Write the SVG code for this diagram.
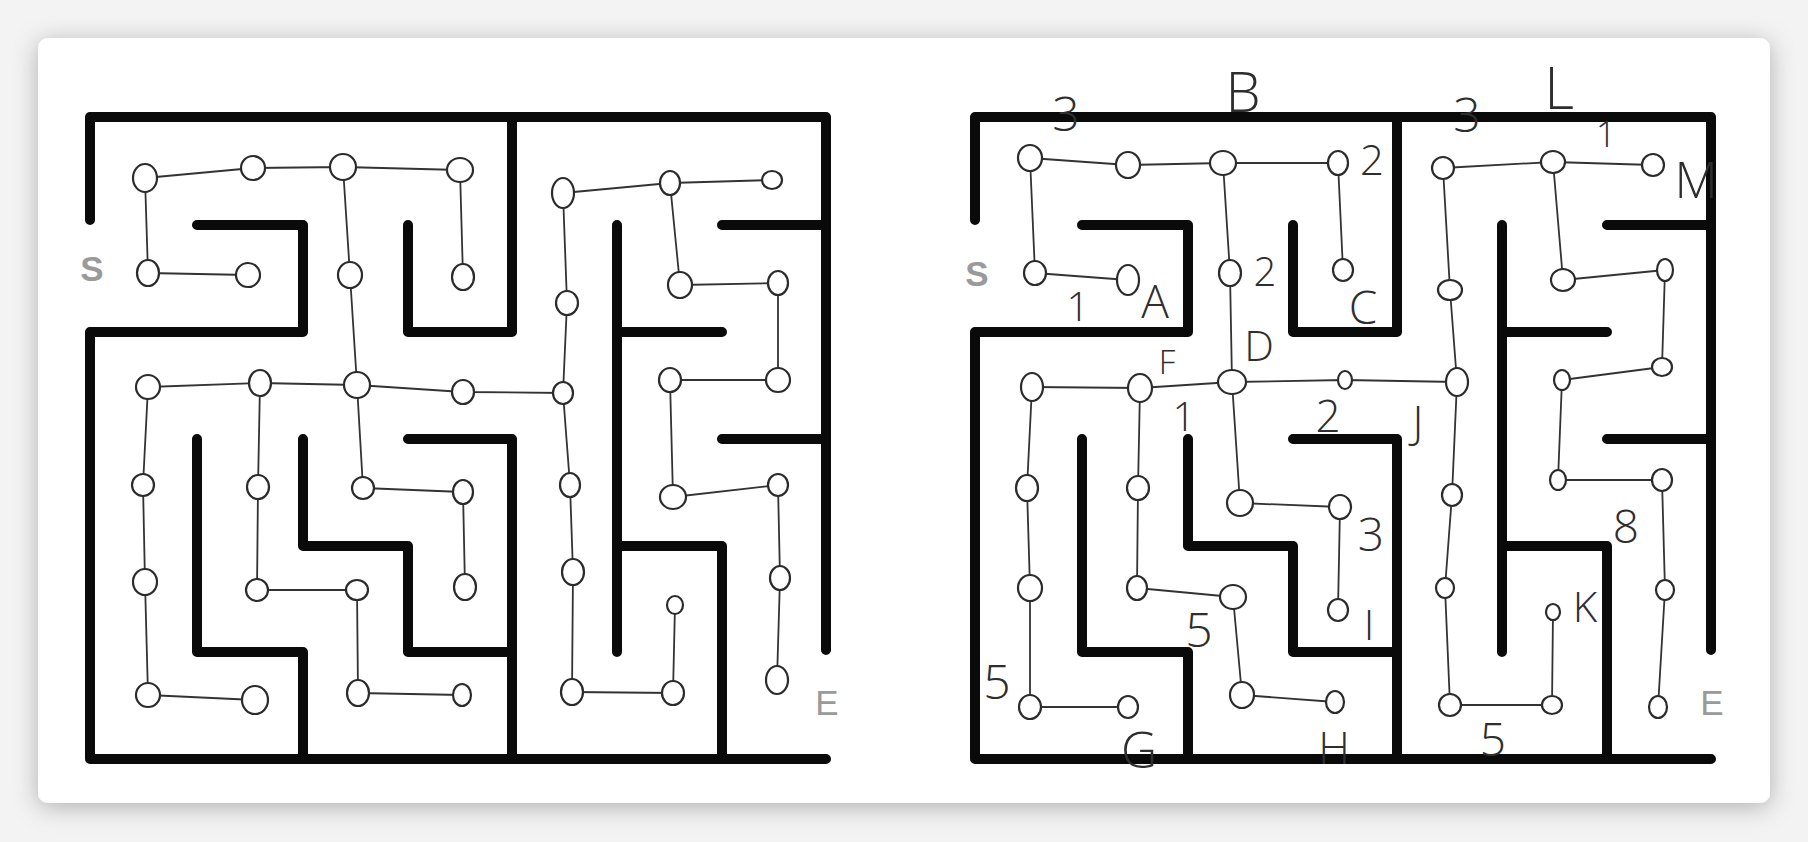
<svg xmlns="http://www.w3.org/2000/svg" width="1808" height="842" viewBox="0 0 1808 842">
<defs>
<style>
.wall{fill:none;stroke:#0a0a0a;stroke-width:10;stroke-linejoin:round;stroke-linecap:round}
.edge{stroke:#333;stroke-width:1.8;fill:none;stroke-linecap:round}
.node ellipse{fill:#fff;stroke:#2b2b2b;stroke-width:2.2}
.se{font-family:"Liberation Sans",Arial,sans-serif;font-size:35px;fill:#9a9a9a;text-anchor:middle;dominant-baseline:central}
.hw{font-family:"Open Sans","Liberation Sans",Arial,sans-serif;fill:#2e2e2e;text-anchor:middle;dominant-baseline:central;font-weight:300}
</style>
<filter id="shadow" x="-5%" y="-8%" width="110%" height="120%">
<feDropShadow dx="0" dy="4" stdDeviation="12" flood-color="#000" flood-opacity="0.28"/>
</filter>
<path id="walls" class="wall" d="M90,220 V117 H826 V650 M197,225 H303 V332 H90 V759 H826 M408,225 V332 H512 V117 M408,439 H512 V759 M197,439 V652 H303 V759 M303,439 V546 H408 V652 H512 M617,225 V652 M617,332 H722 M617,546 H722 V759 M722,225 H826 M722,439 H826"/>
</defs>
<rect x="0" y="0" width="1808" height="842" fill="#f3f3f3"/>
<rect x="38" y="38" width="1732" height="765" rx="10" ry="10" fill="#fff" filter="url(#shadow)"/>

<g id="maze-walls">
<use href="#walls"/>
<use href="#walls" x="885"/>
</g>

<g id="connectors">
<g id="left-connectors">
<path class="edge" d="M145,178L253,168M253,168L343,167M343,167L460,170M563,193L670,183M670,183L772,180M148,273L248,275M680,285L778,283M148,387L260,383M260,383L357,385M357,385L463,392M463,392L563,393M670,380L778,380M363,488L463,492M673,497L778,485M257,590L357,590M148,695L255,700M358,693L462,695M572,692L673,693"/>
<path class="edge" d="M145,178L148,273M343,167L350,275M460,170L463,277M563,193L567,303M670,183L680,285M350,275L357,385M567,303L563,393M778,283L778,380M148,387L143,485M260,383L258,487M357,385L363,488M563,393L570,485M670,380L673,497M143,485L145,582M258,487L257,590M463,492L465,587M570,485L573,572M778,485L780,578M145,582L148,695M357,590L358,693M573,572L572,692M675,605L673,693M780,578L777,680"/>
</g>
<g id="right-connectors">
<path class="edge" d="M1030,158L1128,165M1128,165L1223,163M1223,163L1338,163M1443,168L1553,162M1553,162L1653,165M1035,273L1128,280M1563,280L1665,270M1032,387L1140,388M1140,388L1232,382M1232,382L1345,380M1345,380L1457,382M1562,380L1662,367M1240,503L1340,507M1558,480L1662,480M1137,588L1233,597M1030,707L1128,707M1242,695L1335,702M1450,705L1552,705"/>
<path class="edge" d="M1030,158L1035,273M1223,163L1230,273M1338,163L1343,270M1443,168L1450,290M1553,162L1563,280M1230,273L1232,382M1450,290L1457,382M1665,270L1662,367M1032,387L1027,488M1140,388L1138,488M1232,382L1240,503M1457,382L1452,495M1562,380L1558,480M1027,488L1030,588M1138,488L1137,588M1340,507L1338,610M1452,495L1445,588M1662,480L1665,590M1030,588L1030,707M1233,597L1242,695M1445,588L1450,705M1553,612L1552,705M1665,590L1658,707"/>
</g>
</g>

<g id="left-nodes">
<g id="L-r0c0" class="node"><ellipse cx="145" cy="178" rx="12" ry="14"/></g>
<g id="L-r0c1" class="node"><ellipse cx="253" cy="168" rx="12" ry="12"/></g>
<g id="L-r0c2" class="node"><ellipse cx="343" cy="167" rx="13" ry="13"/></g>
<g id="L-r0c3" class="node"><ellipse cx="460" cy="170" rx="13" ry="12"/></g>
<g id="L-r0c4" class="node"><ellipse cx="563" cy="193" rx="11" ry="15"/></g>
<g id="L-r0c5" class="node"><ellipse cx="670" cy="183" rx="10" ry="12"/></g>
<g id="L-r0c6" class="node"><ellipse cx="772" cy="180" rx="10" ry="9"/></g>
<g id="L-r1c0" class="node"><ellipse cx="148" cy="273" rx="11" ry="13"/></g>
<g id="L-r1c1" class="node"><ellipse cx="248" cy="275" rx="12" ry="12"/></g>
<g id="L-r1c2" class="node"><ellipse cx="350" cy="275" rx="12" ry="13"/></g>
<g id="L-r1c3" class="node"><ellipse cx="463" cy="277" rx="11" ry="13"/></g>
<g id="L-r1c4" class="node"><ellipse cx="567" cy="303" rx="11" ry="12"/></g>
<g id="L-r1c5" class="node"><ellipse cx="680" cy="285" rx="12" ry="13"/></g>
<g id="L-r1c6" class="node"><ellipse cx="778" cy="283" rx="10" ry="12"/></g>
<g id="L-r2c0" class="node"><ellipse cx="148" cy="387" rx="12" ry="12"/></g>
<g id="L-r2c1" class="node"><ellipse cx="260" cy="383" rx="11" ry="13"/></g>
<g id="L-r2c2" class="node"><ellipse cx="357" cy="385" rx="13" ry="13"/></g>
<g id="L-r2c3" class="node"><ellipse cx="463" cy="392" rx="11" ry="12"/></g>
<g id="L-r2c4" class="node"><ellipse cx="563" cy="393" rx="10" ry="11"/></g>
<g id="L-r2c5" class="node"><ellipse cx="670" cy="380" rx="11" ry="12"/></g>
<g id="L-r2c6" class="node"><ellipse cx="778" cy="380" rx="12" ry="12"/></g>
<g id="L-r3c0" class="node"><ellipse cx="143" cy="485" rx="11" ry="11"/></g>
<g id="L-r3c1" class="node"><ellipse cx="258" cy="487" rx="11" ry="12"/></g>
<g id="L-r3c2" class="node"><ellipse cx="363" cy="488" rx="11" ry="11"/></g>
<g id="L-r3c3" class="node"><ellipse cx="463" cy="492" rx="10" ry="12"/></g>
<g id="L-r3c4" class="node"><ellipse cx="570" cy="485" rx="10" ry="12"/></g>
<g id="L-r3c5" class="node"><ellipse cx="673" cy="497" rx="13" ry="12"/></g>
<g id="L-r3c6" class="node"><ellipse cx="778" cy="485" rx="10" ry="11"/></g>
<g id="L-r4c0" class="node"><ellipse cx="145" cy="582" rx="12" ry="13"/></g>
<g id="L-r4c1" class="node"><ellipse cx="257" cy="590" rx="11" ry="11"/></g>
<g id="L-r4c2" class="node"><ellipse cx="357" cy="590" rx="11" ry="10"/></g>
<g id="L-r4c3" class="node"><ellipse cx="465" cy="587" rx="11" ry="13"/></g>
<g id="L-r4c4" class="node"><ellipse cx="573" cy="572" rx="11" ry="13"/></g>
<g id="L-r4c5" class="node"><ellipse cx="675" cy="605" rx="8" ry="9"/></g>
<g id="L-r4c6" class="node"><ellipse cx="780" cy="578" rx="10" ry="12"/></g>
<g id="L-r5c0" class="node"><ellipse cx="148" cy="695" rx="12" ry="12"/></g>
<g id="L-r5c1" class="node"><ellipse cx="255" cy="700" rx="13" ry="14"/></g>
<g id="L-r5c2" class="node"><ellipse cx="358" cy="693" rx="11" ry="13"/></g>
<g id="L-r5c3" class="node"><ellipse cx="462" cy="695" rx="9" ry="11"/></g>
<g id="L-r5c4" class="node"><ellipse cx="572" cy="692" rx="11" ry="13"/></g>
<g id="L-r5c5" class="node"><ellipse cx="673" cy="693" rx="11" ry="12"/></g>
<g id="L-r5c6" class="node"><ellipse cx="777" cy="680" rx="11" ry="14"/></g>
</g>

<g id="right-nodes">
<g id="R-r0c0" class="node"><ellipse cx="1030" cy="158" rx="12" ry="13"/></g>
<g id="R-r0c1" class="node"><ellipse cx="1128" cy="165" rx="12" ry="13"/></g>
<g id="R-r0c2" class="node"><ellipse cx="1223" cy="163" rx="13" ry="12"/></g>
<g id="R-r0c3" class="node"><ellipse cx="1338" cy="163" rx="10" ry="12"/></g>
<g id="R-r0c4" class="node"><ellipse cx="1443" cy="168" rx="11" ry="11"/></g>
<g id="R-r0c5" class="node"><ellipse cx="1553" cy="162" rx="12" ry="11"/></g>
<g id="R-r0c6" class="node"><ellipse cx="1653" cy="165" rx="11" ry="11"/></g>
<g id="R-r1c0" class="node"><ellipse cx="1035" cy="273" rx="11" ry="12"/></g>
<g id="R-r1c1" class="node"><ellipse cx="1128" cy="280" rx="11" ry="15"/></g>
<g id="R-r1c2" class="node"><ellipse cx="1230" cy="273" rx="11" ry="13"/></g>
<g id="R-r1c3" class="node"><ellipse cx="1343" cy="270" rx="10" ry="11"/></g>
<g id="R-r1c4" class="node"><ellipse cx="1450" cy="290" rx="12" ry="10"/></g>
<g id="R-r1c5" class="node"><ellipse cx="1563" cy="280" rx="12" ry="11"/></g>
<g id="R-r1c6" class="node"><ellipse cx="1665" cy="270" rx="8" ry="11"/></g>
<g id="R-r2c0" class="node"><ellipse cx="1032" cy="387" rx="11" ry="14"/></g>
<g id="R-r2c1" class="node"><ellipse cx="1140" cy="388" rx="12" ry="14"/></g>
<g id="R-r2c2" class="node"><ellipse cx="1232" cy="382" rx="14" ry="12"/></g>
<g id="R-r2c3" class="node"><ellipse cx="1345" cy="380" rx="7" ry="9"/></g>
<g id="R-r2c4" class="node"><ellipse cx="1457" cy="382" rx="11" ry="14"/></g>
<g id="R-r2c5" class="node"><ellipse cx="1562" cy="380" rx="8" ry="10"/></g>
<g id="R-r2c6" class="node"><ellipse cx="1662" cy="367" rx="10" ry="9"/></g>
<g id="R-r3c0" class="node"><ellipse cx="1027" cy="488" rx="11" ry="13"/></g>
<g id="R-r3c1" class="node"><ellipse cx="1138" cy="488" rx="11" ry="12"/></g>
<g id="R-r3c2" class="node"><ellipse cx="1240" cy="503" rx="13" ry="13"/></g>
<g id="R-r3c3" class="node"><ellipse cx="1340" cy="507" rx="11" ry="12"/></g>
<g id="R-r3c4" class="node"><ellipse cx="1452" cy="495" rx="10" ry="11"/></g>
<g id="R-r3c5" class="node"><ellipse cx="1558" cy="480" rx="8" ry="10"/></g>
<g id="R-r3c6" class="node"><ellipse cx="1662" cy="480" rx="10" ry="11"/></g>
<g id="R-r4c0" class="node"><ellipse cx="1030" cy="588" rx="12" ry="13"/></g>
<g id="R-r4c1" class="node"><ellipse cx="1137" cy="588" rx="10" ry="12"/></g>
<g id="R-r4c2" class="node"><ellipse cx="1233" cy="597" rx="13" ry="12"/></g>
<g id="R-r4c3" class="node"><ellipse cx="1338" cy="610" rx="10" ry="11"/></g>
<g id="R-r4c4" class="node"><ellipse cx="1445" cy="588" rx="9" ry="10"/></g>
<g id="R-r4c5" class="node"><ellipse cx="1553" cy="612" rx="7" ry="8"/></g>
<g id="R-r4c6" class="node"><ellipse cx="1665" cy="590" rx="9" ry="10"/></g>
<g id="R-r5c0" class="node"><ellipse cx="1030" cy="707" rx="11" ry="12"/></g>
<g id="R-r5c1" class="node"><ellipse cx="1128" cy="707" rx="10" ry="11"/></g>
<g id="R-r5c2" class="node"><ellipse cx="1242" cy="695" rx="12" ry="13"/></g>
<g id="R-r5c3" class="node"><ellipse cx="1335" cy="702" rx="9" ry="11"/></g>
<g id="R-r5c4" class="node"><ellipse cx="1450" cy="705" rx="11" ry="11"/></g>
<g id="R-r5c5" class="node"><ellipse cx="1552" cy="705" rx="10" ry="9"/></g>
<g id="R-r5c6" class="node"><ellipse cx="1658" cy="707" rx="9" ry="11"/></g>
</g>

<g id="start-end-labels">
<text class="se" x="92" y="268" font-weight="bold">S</text>
<text class="se" x="827" y="702">E</text>
<text class="se" x="977" y="273" font-weight="bold">S</text>
<text class="se" x="1712" y="702">E</text>
</g>

<g id="annotations">
<text class="hw" x="1066" y="112" font-size="48">3</text>
<text class="hw" x="1243" y="90" font-size="56">B</text>
<text class="hw" x="1372" y="158" font-size="42">2</text>
<text class="hw" x="1265" y="270" font-size="40">2</text>
<text class="hw" x="1078" y="305" font-size="40">1</text>
<text class="hw" x="1155" y="300" font-size="46">A</text>
<text class="hw" x="1363" y="306" font-size="46">C</text>
<text class="hw" x="1259" y="344" font-size="42">D</text>
<text class="hw" x="1167" y="361" font-size="33">F</text>
<text class="hw" x="1184" y="415" font-size="40">1</text>
<text class="hw" x="1328" y="415" font-size="44">2</text>
<text class="hw" x="1418" y="421" font-size="44">J</text>
<text class="hw" x="1467" y="113" font-size="48">3</text>
<text class="hw" x="1559" y="86" font-size="58">L</text>
<text class="hw" x="1606" y="133" font-size="36">1</text>
<text class="hw" x="1696" y="179" font-size="50">M</text>
<text class="hw" x="1371" y="533" font-size="46">3</text>
<text class="hw" x="1369" y="623" font-size="42">I</text>
<text class="hw" x="1199" y="628" font-size="48">5</text>
<text class="hw" x="997" y="680" font-size="48">5</text>
<text class="hw" x="1139" y="749" font-size="50">G</text>
<text class="hw" x="1334" y="747" font-size="44">H</text>
<text class="hw" x="1626" y="525" font-size="46">8</text>
<text class="hw" x="1585" y="605" font-size="42">K</text>
<text class="hw" x="1493" y="738" font-size="46">5</text>
</g>
</svg>
